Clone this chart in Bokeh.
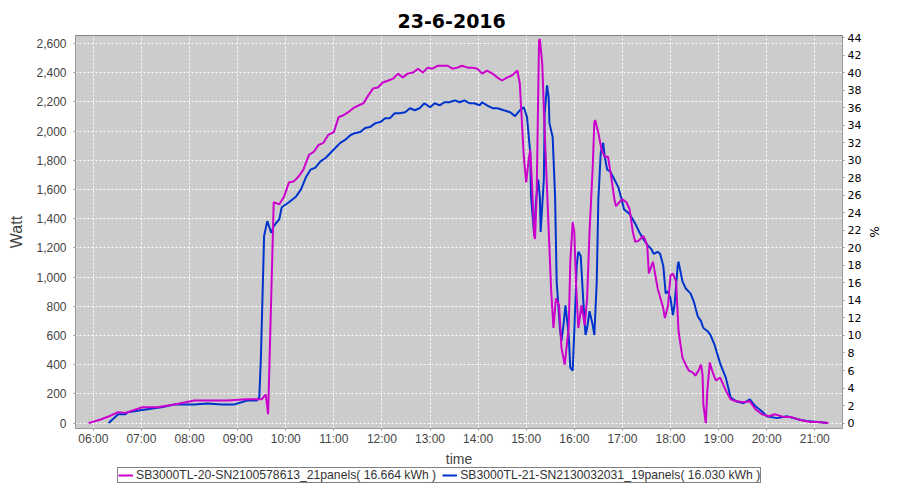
from bokeh.plotting import figure
from bokeh.layouts import column
from bokeh.models import (Range1d, LinearAxis, FixedTicker, NumeralTickFormatter,
                          Legend, LegendItem, ColumnDataSource)
from bokeh.embed import file_html
from bokeh.resources import INLINE

title_text = "23-6-2016"
x_title = "time"
label_a = "SB3000TL-20-SN2100578613_21panels( 16.664 kWh )"
label_b = "SB3000TL-21-SN2130032031_19panels( 16.030 kWh )"

hour_labels = ["06:00", "07:00", "08:00", "09:00", "10:00", "11:00", "12:00", "13:00",
               "14:00", "15:00", "16:00", "17:00", "18:00", "19:00", "20:00", "21:00"]
watt_ticks = [0, 200, 400, 600, 800, 1000, 1200, 1400, 1600, 1800, 2000, 2200, 2400, 2600]
pct_ticks = [0, 2, 4, 6, 8, 10, 12, 14, 16, 18, 20, 22, 24, 26, 28, 30, 32, 34, 36, 38, 40, 42, 44]

times_a = ["05:54", "06:09", "06:19", "06:31", "06:40", "07:01", "07:20", "07:41", "08:06", "08:22",
           "08:47", "09:12", "09:30", "09:35", "09:38", "09:45", "09:52", "09:58", "10:04", "10:10",
           "10:16", "10:22", "10:29", "10:35", "10:41", "10:47", "10:53", "11:00", "11:06", "11:12",
           "11:18", "11:24", "11:31", "11:37", "11:43", "11:49", "11:55", "12:01", "12:08", "12:14",
           "12:20", "12:26", "12:32", "12:39", "12:45", "12:51", "12:57", "13:03", "13:10", "13:16",
           "13:22", "13:28", "13:34", "13:40", "13:47", "13:53", "13:59", "14:05", "14:11", "14:18",
           "14:24", "14:30", "14:36", "14:42", "14:49", "14:52", "14:57", "15:00", "15:03", "15:05",
           "15:07", "15:10", "15:11", "15:13", "15:16", "15:17", "15:20", "15:23", "15:28", "15:31",
           "15:34", "15:37", "15:41", "15:44", "15:48", "15:53", "15:55", "15:58", "16:00", "16:02",
           "16:05", "16:09", "16:13", "16:16", "16:19", "16:23", "16:25", "16:26", "16:30", "16:34",
           "16:38", "16:42", "16:46", "16:50", "16:52", "16:56", "17:00", "17:05", "17:09", "17:13",
           "17:16", "17:20", "17:26", "17:28", "17:31", "17:33", "17:38", "17:39", "17:44", "17:51",
           "17:53", "17:57", "18:00", "18:03", "18:07", "18:10", "18:15", "18:19", "18:23", "18:28",
           "18:31", "18:35", "18:38", "18:40", "18:41", "18:44", "18:46", "18:49", "18:52", "18:55",
           "18:57", "19:02", "19:09", "19:15", "19:22", "19:31", "19:39", "19:46", "19:54", "20:03",
           "20:10", "20:22", "20:31", "20:43", "20:55", "21:05", "21:17"]
watts_a = [0, 25, 45, 75, 70, 108, 108, 128, 155, 155,
           155, 163, 163, 197, 61, 1512, 1498, 1552, 1648, 1655,
           1688, 1736, 1837, 1858, 1905, 1919, 1973, 1993, 2095, 2108,
           2129, 2156, 2176, 2190, 2244, 2292, 2298, 2332, 2346, 2359,
           2393, 2366, 2393, 2400, 2427, 2400, 2434, 2427, 2447, 2447,
           2447, 2427, 2434, 2447, 2434, 2434, 2427, 2393, 2414, 2393,
           2366, 2346, 2366, 2380, 2414, 2325, 1824, 1648, 1803, 1871,
           1668, 1281, 1261, 1553, 2617, 2630, 2461, 2007, 1329, 922,
           651, 854, 807, 515, 400, 651, 1105, 1376, 1309, 969,
           651, 807, 671, 854, 1309, 1756, 2061, 2075, 1987, 1871,
           1824, 1824, 1688, 1532, 1485, 1512, 1532, 1512, 1464, 1309,
           1241, 1248, 1281, 1261, 1214, 1024, 1105, 1078, 922, 786,
           719, 807, 1010, 1024, 969, 631, 447, 400, 359, 346,
           325, 359, 400, 332, 129, 0, 224, 414, 359, 312,
           292, 312, 224, 163, 149, 142, 149, 95, 61, 47,
           61, 41, 41, 20, 7, 7, 0]

times_b = ["06:19", "06:31", "06:40", "06:43", "07:01", "07:25", "07:41", "08:06", "08:22", "08:40",
           "08:56", "09:12", "09:24", "09:27", "09:29", "09:33", "09:37", "09:42", "09:45", "09:52",
           "09:55", "10:04", "10:13", "10:19", "10:25", "10:31", "10:37", "10:43", "10:50", "10:56",
           "11:02", "11:08", "11:14", "11:21", "11:27", "11:33", "11:39", "11:45", "11:52", "11:58",
           "12:04", "12:10", "12:16", "12:22", "12:29", "12:35", "12:41", "12:47", "12:53", "13:00",
           "13:06", "13:12", "13:18", "13:24", "13:31", "13:37", "13:43", "13:49", "13:55", "14:02",
           "14:05", "14:11", "14:18", "14:24", "14:32", "14:40", "14:46", "14:52", "14:57", "15:01",
           "15:05", "15:06", "15:10", "15:12", "15:15", "15:17", "15:18", "15:22", "15:23", "15:26",
           "15:28", "15:29", "15:33", "15:36", "15:38", "15:42", "15:44", "15:47", "15:49", "15:53",
           "15:55", "15:58", "16:00", "16:03", "16:05", "16:08", "16:11", "16:14", "16:16", "16:19",
           "16:23", "16:25", "16:28", "16:30", "16:33", "16:36", "16:38", "16:41", "16:45", "16:50",
           "16:55", "16:59", "17:02", "17:09", "17:15", "17:21", "17:26", "17:32", "17:36", "17:39",
           "17:44", "17:47", "17:51", "17:54", "17:57", "18:00", "18:03", "18:05", "18:09", "18:10",
           "18:15", "18:19", "18:25", "18:29", "18:34", "18:38", "18:41", "18:46", "18:50", "18:55",
           "19:02", "19:09", "19:15", "19:22", "19:31", "19:39", "19:46", "19:54", "20:00", "20:13",
           "20:25", "20:38", "20:50", "21:04", "21:16"]
watts_b = [0, 60, 60, 75, 90, 108, 128, 128, 135, 128,
           128, 155, 155, 176, 447, 1281, 1383, 1302, 1349, 1397,
           1478, 1512, 1552, 1600, 1681, 1736, 1749, 1790, 1817, 1851,
           1885, 1919, 1939, 1973, 1987, 1993, 2020, 2027, 2054, 2061,
           2088, 2088, 2122, 2122, 2129, 2156, 2142, 2156, 2190, 2163,
           2190, 2176, 2197, 2197, 2210, 2197, 2210, 2190, 2190, 2176,
           2197, 2176, 2156, 2156, 2142, 2129, 2102, 2142, 2163, 2095,
           1851, 1553, 1281, 1512, 1668, 1553, 1309, 1668, 2122, 2312,
           2231, 2054, 1959, 1553, 969, 651, 563, 698, 807, 603,
           380, 359, 631, 1078, 1173, 1146, 854, 603, 651, 766,
           671, 603, 969, 1532, 1851, 1919, 1824, 1736, 1722, 1668,
           1614, 1532, 1464, 1431, 1376, 1309, 1261, 1214, 1193, 1159,
           1173, 1159, 1078, 888, 902, 854, 739, 807, 1078, 1105,
           969, 922, 888, 834, 732, 698, 651, 631, 603, 536,
           407, 312, 176, 149, 136, 163, 115, 81, 47, 34,
           47, 27, 14, 7, 0]

MAGENTA = "#CC00CC"
BLUE = "#0033CC"


def to_min(s):
    h, m = s.split(":")
    return int(h) * 60 + int(m)


src_a = ColumnDataSource(dict(t=[to_min(s) for s in times_a], w=watts_a))
src_b = ColumnDataSource(dict(t=[to_min(s) for s in times_b], w=watts_b))

Y0, Y1 = -37, 2654
p = figure(width=884, height=448, output_backend="svg", toolbar_location=None,
           x_range=Range1d(337.7, 1294.6), y_range=Range1d(Y0, Y1),
           min_border_left=75, min_border_right=36, min_border_top=35, min_border_bottom=18)

p.background_fill_color = "#CCCCCC"
p.border_fill_color = "white"
p.outline_line_color = "#808080"
p.outline_line_width = 1

# title
p.title.text = title_text
p.title.align = "left"
p.title.offset = 322
p.title.text_font = "DejaVu Sans"
p.title.text_font_style = "bold"
p.title.text_font_size = "19px"
p.title.text_color = "black"
p.title.standoff = 15

hour_ticks = [to_min(h) for h in hour_labels]

# x axis (its title "time" is drawn in the strip below)
xa = p.xaxis[0]
xa.ticker = FixedTicker(ticks=hour_ticks)
xa.major_label_overrides = {t: l for t, l in zip(hour_ticks, hour_labels)}

# left axis
ya = p.yaxis[0]
ya.ticker = FixedTicker(ticks=watt_ticks)
ya.formatter = NumeralTickFormatter(format="0,0")
ya.axis_label = "Watt"

# right axis
p.extra_y_ranges = {"pct": Range1d(Y0 / 60.0, Y1 / 60.0)}
ra_axis = LinearAxis(y_range_name="pct", ticker=FixedTicker(ticks=pct_ticks), axis_label="%")
p.add_layout(ra_axis, "right")

for ax in (xa, ya, ra_axis):
    ax.axis_line_color = "#999999"
    ax.major_tick_line_color = "#999999"
    ax.major_tick_out = 2
    ax.major_tick_in = 0
    ax.minor_tick_out = 0
    ax.minor_tick_in = 0
    ax.major_label_text_font = "Liberation Sans"
    ax.major_label_text_font_size = "12px"
    ax.major_label_text_color = "#444444"
    ax.axis_label_text_font = "Liberation Sans"
    ax.axis_label_text_font_size = "16px"
    ax.axis_label_text_font_style = "normal"
    ax.axis_label_text_color = "#444444"

xa.major_label_standoff = 1
ya.major_label_standoff = 7
ya.axis_label_standoff = 8
ra_axis.major_label_text_font = "DejaVu Sans"
ra_axis.major_label_text_font_size = "11px"
ra_axis.major_label_text_color = "black"
ra_axis.major_label_standoff = 3
ra_axis.axis_label_text_font = "DejaVu Sans"
ra_axis.axis_label_text_font_size = "12px"
ra_axis.axis_label_text_color = "black"
ra_axis.axis_label_standoff = 3

# grids
p.xgrid.ticker = FixedTicker(ticks=hour_ticks)
p.ygrid.ticker = FixedTicker(ticks=watt_ticks)
for g in (p.xgrid[0], p.ygrid[0]):
    g.grid_line_color = "white"
    g.grid_line_dash = "2 2"
    g.grid_line_width = 1
    g.grid_line_alpha = 1.0

# lines: blue drawn first, magenta on top
p.line("t", "w", source=src_b, line_color=BLUE, line_width=2)
p.line("t", "w", source=src_a, line_color=MAGENTA, line_width=2)

# strip below: x-axis title and legend
leg_fig = figure(width=884, height=36, output_backend="svg", toolbar_location=None,
                 min_border=0, x_axis_location=None, y_axis_location=None,
                 x_range=Range1d(0, 1), y_range=Range1d(0, 1))
leg_fig.title.text = x_title
leg_fig.title.align = "center"
leg_fig.title.text_font = "Liberation Sans"
leg_fig.title.text_font_size = "14px"
leg_fig.title.text_font_style = "normal"
leg_fig.title.text_color = "#444444"
leg_fig.title.standoff = 0
leg_fig.grid.visible = False
leg_fig.outline_line_color = None
leg_fig.background_fill_color = "white"
leg_fig.border_fill_color = "white"
# same data, outside this strip's view: only the legend swatches show
ka = leg_fig.line("t", "w", source=src_a, line_color=MAGENTA, line_width=2)
kb = leg_fig.line("t", "w", source=src_b, line_color=BLUE, line_width=2)

legend = Legend(items=[LegendItem(label=label_a, renderers=[ka]),
                       LegendItem(label=label_b, renderers=[kb])],
                orientation="horizontal", location=(42, 1))
legend.label_text_font = "Liberation Sans"
legend.label_text_font_size = "12.2px"
legend.label_text_color = "#333333"
legend.glyph_width = 15
legend.glyph_height = 12
legend.label_height = 12
legend.label_standoff = 3
legend.spacing = 6
legend.padding = 0
legend.margin = 0
legend.border_line_color = "black"
legend.border_line_width = 1
legend.background_fill_color = "white"
legend.background_fill_alpha = 1.0
leg_fig.add_layout(legend)

layout = column(p, leg_fig, spacing=0)
open("out.html", "w").write(file_html(layout, INLINE))
